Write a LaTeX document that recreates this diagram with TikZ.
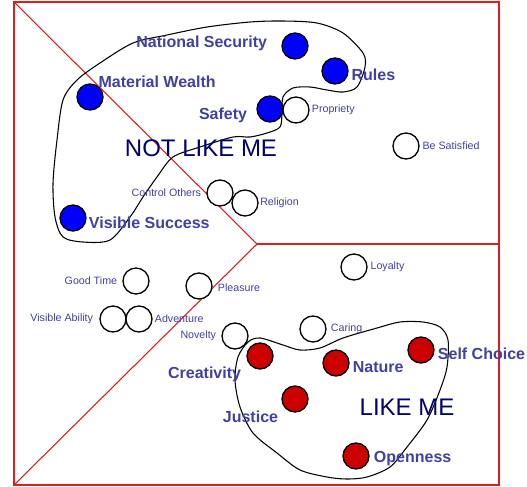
\documentclass[tikz,border=0pt]{standalone}
\usepackage{fontspec}
\setmainfont{Liberation Sans}
\usetikzlibrary{positioning}
\definecolor{labblue}{RGB}{64,64,160}
\definecolor{navy}{RGB}{0,0,110}
\definecolor{framered}{RGB}{220,30,30}
\definecolor{dotred}{RGB}{204,0,0}
\tikzset{
  val/.style={circle, draw, line width=1pt, minimum size=19.5pt, inner sep=0pt, fill=white},
  nme/.style={val, fill=blue},
  lme/.style={val, fill=dotred},
  small/.style={text=labblue, font=\fontsize{8}{9}\selectfont, inner sep=1pt},
  big/.style={text=labblue, font=\fontsize{12}{14}\selectfont\bfseries, inner sep=1pt},
  zone/.style={text=navy, font=\fontsize{18}{20}\selectfont, inner sep=1pt},
  edge/.style={draw=framered, line width=0.8pt},
  blob/.style={draw, line width=0.8pt}
}

\begin{document}
\begin{tikzpicture}[x=0.75pt, y=-0.75pt, node distance=1pt]
\useasboundingbox (0,0) rectangle (527,486);
\coordinate (tl) at (14,2);
\coordinate (br) at (499,485);
\coordinate (bl) at (14,485);
\coordinate (mid) at (257,244);
\coordinate (rmid) at (499,244);

\draw[edge] (tl) rectangle (br);
\draw[edge] (tl) -- (mid) -- (bl);
\draw[edge] (mid) -- (rmid);

\draw[blob] plot[smooth cycle] coordinates {(133,43) (167,35) (207,27) (250,22) (283,21) (317,23) (343,33) (363,53) (365,67) (357,87) (343,92) (327,90) (310,87) (293,88) (283,97) (282,113) (280,127) (267,133) (250,137) (233,137) (200,147) (173,157) (157,177) (143,197) (130,217) (110,240) (83,242) (63,237) (55,217) (53,183) (57,140) (63,100) (77,80) (100,63)};
\draw[blob] plot[smooth cycle] coordinates {(248,342) (260,338) (283,345) (300,350) (320,348) (343,338) (377,328) (400,322) (423,322) (440,327) (448,340) (447,367) (440,390) (427,420) (407,447) (390,467) (367,477) (347,479) (327,477) (300,470) (277,453) (253,433) (240,407) (235,380) (238,357)};

\node (sec) [nme] at (295,46) {};
\node (rules) [nme] at (335,71) {};
\node (wealth) [nme] at (90,97) {};
\node (safety) [nme] at (270,109) {};
\node (propr) [val] at (296,110) {};
\node (besat) [val] at (406,146) {};
\node (ctrl) [val] at (220,193) {};
\node (relig) [val] at (245,203) {};
\node (success) [nme] at (73,218) {};
\node (loyal) [val] at (354,267) {};
\node (good) [val] at (136,281) {};
\node (pleas) [val] at (199,286) {};
\node (vabil) [val] at (113,319) {};
\node (adven) [val] at (139,319) {};
\node (novel) [val] at (235,336) {};
\node (caring) [val] at (313,329) {};
\node (creat) [lme] at (260,356) {};
\node (nature) [lme] at (336,363) {};
\node (selfc) [lme] at (421,350) {};
\node (justice) [lme] at (295,399) {};
\node (open) [lme] at (356,456) {};

\node (secl) [big, left=9.5pt of sec, yshift=2pt] {National Security};
\node (rulesl) [big, right=1pt of rules, yshift=-3pt] {Rules};
\node (wealthl) [big, above right=-1.5pt and -2pt of wealth] {Material Wealth};
\node (safetyl) [big, left=5.75pt of safety, yshift=-5pt] {Safety};
\node (proprl) [small, right=0.5pt of propr] {Propriety};
\node (besatl) [small, right=1pt of besat] {Be Satisfied};
\node (ctrll) [small, left=2.75pt of ctrl] {Control Others};
\node (religl) [small, right=0pt of relig] {Religion};
\node (successl) [big, right=0.5pt of success, yshift=-3.5pt] {Visible Success};
\node (loyall) [small, right=1pt of loyal] {Loyalty};
\node (goodl) [small, left=2.75pt of good] {Good Time};
\node (pleasl) [small, right=2.75pt of pleas, yshift=-1.5pt] {Pleasure};
\node (vabill) [small, left=3.5pt of vabil] {Visible Ability};
\node (advenl) [small, right=0.5pt of adven] {Adventure};
\node (novell) [small, left=2.75pt of novel] {Novelty};
\node (caringl) [small, right=2pt of caring] {Caring};
\node (creatl) [big, left=2.75pt of creat, yshift=-14pt] {Creativity};
\node (naturel) [big, right=1.25pt of nature, yshift=-3pt] {Nature};
\node (selfcl) [big, right=1.25pt of selfc, yshift=-3pt] {Self Choice};
\node (justicel) [big, left=1.25pt of justice, yshift=-13.5pt] {Justice};
\node (openl) [big, right=2pt of open, yshift=-2.25pt] {Openness};

\node (notme) [zone] at (201,148) {NOT LIKE ME};
\node (likeme) [zone] at (407,407) {LIKE ME};
\end{tikzpicture}
\end{document}
